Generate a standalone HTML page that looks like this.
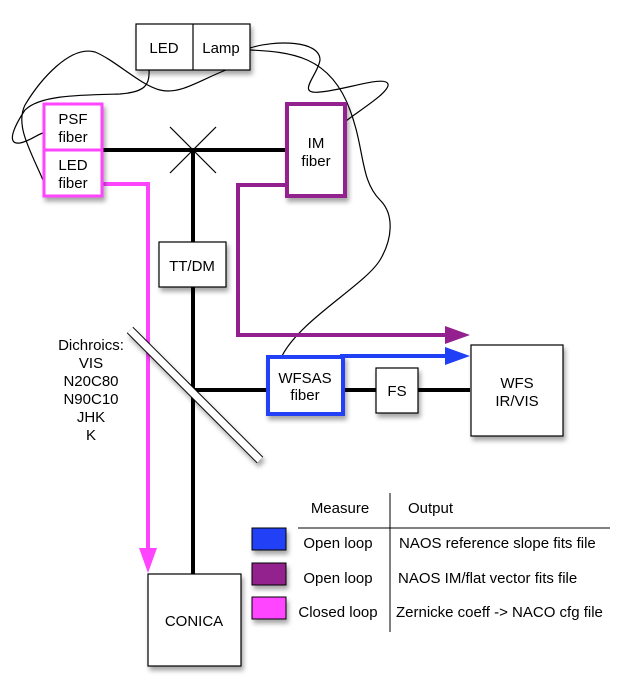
<!DOCTYPE html>
<html><head><meta charset="utf-8"><style>
html,body{margin:0;padding:0;background:#fff;}
svg{display:block;font-family:"Liberation Sans",sans-serif;}
</style></head><body>
<svg width="631" height="681" viewBox="0 0 631 681" xmlns="http://www.w3.org/2000/svg">
<defs>
<filter id="sh" x="-20%" y="-20%" width="150%" height="150%"><feDropShadow dx="2" dy="4" stdDeviation="2.5" flood-color="#000" flood-opacity="0.35"/></filter>
</defs>
<g fill="none" stroke="#000" stroke-width="1.2">
<path d="M149,70 C150,85 145,92 120,94 C80,95 40,95 25,110 C15,125 5,145 20,143 C30,141 38,134 43,133"/>
<path d="M226,70 C200,80 180,95 160,90 C140,85 115,60 95,52 C70,45 40,80 25,105 C15,125 30,150 43,180"/>
<path d="M250,48 C275,40 320,40 320,60 C318,75 295,95 320,92 C345,90 385,75 388,84 C390,92 360,110 346,121"/>
<path d="M250,50 C290,52 330,55 350,110 C365,150 360,180 380,200 C395,215 392,240 380,260 C365,285 300,320 282,356"/>
</g>
<g stroke="#000" stroke-width="4" fill="none">
<line x1="102" y1="150" x2="286" y2="150"/>
<line x1="193" y1="150" x2="193" y2="574"/>
<line x1="193" y1="390" x2="470" y2="390"/>
</g>
<g stroke="#000" stroke-width="1.2"><line x1="170" y1="127" x2="216" y2="173"/><line x1="216" y1="127" x2="170" y2="173"/></g>
<polyline points="102,184 148,184 148,550" fill="none" stroke="#ff44ff" stroke-width="4"/>
<polygon points="139,548 157,548 148,573" fill="#ff44ff"/>
<polyline points="286,185 238,185 238,335 447,335" fill="none" stroke="#93208e" stroke-width="4"/>
<polygon points="445,326 445,344 470,335" fill="#93208e"/>
<line x1="340" y1="356" x2="447" y2="356" stroke="#2040f5" stroke-width="4"/>
<polygon points="445,347 445,365 470,356" fill="#2040f5"/>
<g filter="url(#sh)"><line x1="130" y1="330" x2="260" y2="460" stroke="#000" stroke-width="9" stroke-linecap="butt"/></g>
<line x1="130" y1="330" x2="260" y2="460" stroke="#fff" stroke-width="7"/>
<g filter="url(#sh)">
<rect x="136" y="24" width="114" height="46" fill="#fff" stroke="#000" stroke-width="1.2"/>
<rect x="44" y="104" width="58" height="46" fill="#fff" stroke="#ff44ff" stroke-width="3"/>
<rect x="44" y="150" width="58" height="46" fill="#fff" stroke="#ff44ff" stroke-width="3"/>
<rect x="287" y="104" width="58" height="92" fill="#fff" stroke="#93208e" stroke-width="4"/>
<rect x="159" y="242" width="67" height="45" fill="#fff" stroke="#000" stroke-width="1.2"/>
<rect x="268" y="357" width="75" height="57" fill="#fff" stroke="#2040f5" stroke-width="4"/>
<rect x="376" y="368" width="42" height="45" fill="#fff" stroke="#000" stroke-width="1.2"/>
<rect x="471" y="345" width="92" height="91" fill="#fff" stroke="#000" stroke-width="1.2"/>
<rect x="148" y="574" width="93" height="92" fill="#fff" stroke="#000" stroke-width="1.2"/>
<rect x="252" y="528" width="34" height="22" fill="#2040f5" stroke="#000" stroke-width="1"/>
<rect x="252" y="563" width="34" height="22" fill="#93208e" stroke="#000" stroke-width="1"/>
<rect x="252" y="597" width="34" height="22" fill="#ff44ff" stroke="#000" stroke-width="1"/>
</g>
<line x1="193" y1="24" x2="193" y2="70" stroke="#000" stroke-width="1.2"/>
<g font-size="15" text-anchor="middle" fill="#000">
<text x="164" y="53">LED</text><text x="221" y="53">Lamp</text>
<text x="73" y="124">PSF</text><text x="73" y="142">fiber</text>
<text x="73" y="170">LED</text><text x="73" y="188">fiber</text>
<text x="316" y="148">IM</text><text x="316" y="166">fiber</text>
<text x="192" y="271">TT/DM</text>
<text x="305" y="383">WFSAS</text><text x="305" y="400">fiber</text>
<text x="397" y="396">FS</text>
<text x="517" y="388">WFS</text><text x="517" y="406">IR/VIS</text>
<text x="194" y="626">CONICA</text>
<text x="91" y="350">Dichroics:</text><text x="91" y="368">VIS</text><text x="91" y="386">N20C80</text><text x="91" y="404">N90C10</text><text x="91" y="422">JHK</text><text x="91" y="440">K</text>
<text x="340" y="513">Measure</text>
<text x="338" y="548">Open loop</text><text x="338" y="583">Open loop</text><text x="338" y="617">Closed loop</text>
</g>
<g font-size="15" fill="#000">
<text x="408" y="513">Output</text>
<text x="399" y="548">NAOS reference slope fits file</text>
<text x="398" y="583">NAOS IM/flat vector fits file</text>
<text x="396" y="617">Zernicke coeff -&gt; NACO cfg file</text>
</g>
<line x1="390" y1="493" x2="390" y2="632" stroke="#000" stroke-width="1"/>
<line x1="298" y1="528" x2="610" y2="528" stroke="#000" stroke-width="1"/>
</svg>
</body></html>
